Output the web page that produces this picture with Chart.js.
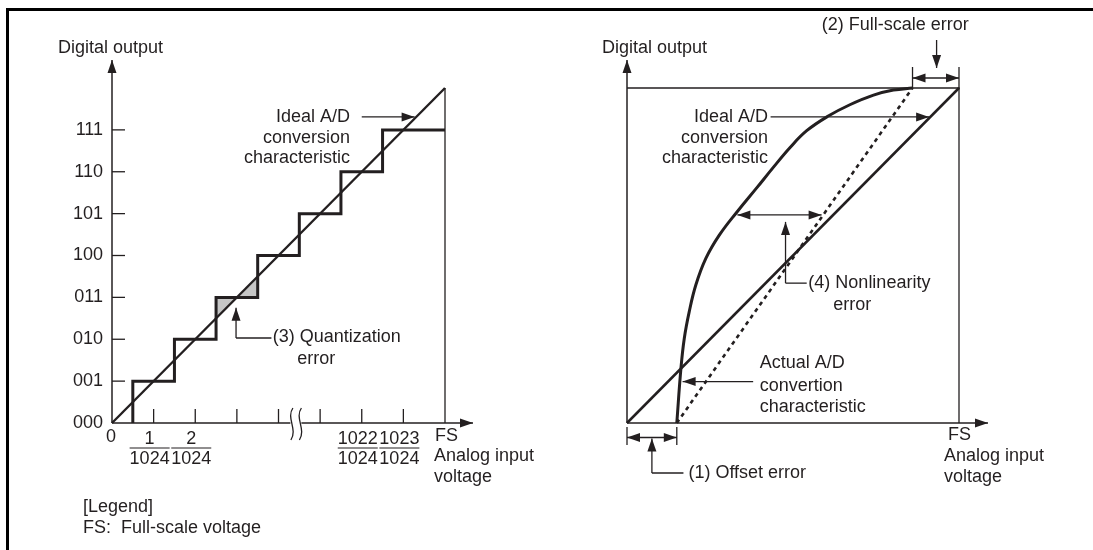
<!DOCTYPE html>
<html>
<head>
<meta charset="utf-8">
<script src="https://cdn.jsdelivr.net/npm/chart.js@4"></script>
<style>
  body { margin: 0; background: #fff; width: 1093px; height: 550px; overflow: hidden; position: relative; }
  #frame { position: absolute; left: 6px; top: 8px; width: 1200px; height: 700px;
           border-top: 3px solid #000; border-left: 3px solid #000; }
  canvas { position: absolute; top: 0; }
  #left { left: 0; }
  #right { left: 546px; }
</style>
</head>
<body>
<div id="frame"></div>
<canvas id="left" width="546" height="550"></canvas>
<canvas id="right" width="547" height="550"></canvas>
<script>
// left: quantization staircase (units: 1 LSB per step, FS = 8)
const codeLabels = ["000", "001", "010", "011", "100", "101", "110", "111"];
const codeLevels = [0, 1, 2, 3, 4, 5, 6, 7];
const stairX = [0.5, 0.5, 1.5, 2.5, 3.5, 4.5, 5.5, 6.5, 8];
const stairY = [0, 1, 2, 3, 4, 5, 6, 7, 7];
const idealX = [0, 8];
const idealY = [0, 8];
const fsLineX = [8, 8];
const fsLineY = [0, 8];
const tickX = [1, 2, 3, 4, 5, 6, 7];
const fracTickX = [1, 2, 6, 7];
const fracNum = ["1", "2", "1022", "1023"];
const fracDen = "1024";
const quantAX = [2.5, 2.5, 3];
const quantAY = [2.5, 3, 3];
const quantBX = [3, 3.5, 3.5];
const quantBY = [3, 3, 3.5];
const breakAt = 4.43;

// right: error types
const offsetEnd = 1.2;
const fullScaleEnd = 6.88;
const actualX = [1.2, 1.3, 1.38, 1.5, 1.66, 1.9, 2.22, 2.65, 3.13, 3.53, 3.93, 4.33, 4.85, 5.37, 5.94, 6.42, 6.88];
const actualY = [0, 1.31, 2.02, 2.66, 3.3, 3.93, 4.48, 5.04, 5.62, 6.11, 6.58, 6.98, 7.33, 7.6, 7.83, 7.95, 8];
const dashX = [1.2, 6.88];
const dashY = [0, 8];
const boxX = [0, 8, 8];
const boxY = [8, 8, 0];

const INK = "#231f20";
const FONT = '18px "Liberation Sans", Arial, sans-serif';

const pts = (xs, ys) => xs.map((x, i) => ({ x: x, y: ys[i] }));

function lineDs(data, width, extra) {
  return Object.assign({
    data: data,
    borderColor: INK,
    borderWidth: width,
    pointRadius: 0,
    fill: false,
    tension: 0,
    clip: false,
  }, extra || {});
}

function seg(ctx, x1, y1, x2, y2, w) {
  ctx.beginPath();
  ctx.lineWidth = w || 1.3;
  ctx.moveTo(x1, y1);
  ctx.lineTo(x2, y2);
  ctx.stroke();
}

function head(ctx, fx, fy, tx, ty, len, half) {
  len = len || 13;
  half = half || 4.5;
  const a = Math.atan2(ty - fy, tx - fx);
  ctx.beginPath();
  ctx.moveTo(tx, ty);
  ctx.lineTo(tx - len * Math.cos(a) + half * Math.sin(a), ty - len * Math.sin(a) - half * Math.cos(a));
  ctx.lineTo(tx - len * Math.cos(a) - half * Math.sin(a), ty - len * Math.sin(a) + half * Math.cos(a));
  ctx.closePath();
  ctx.fill();
}

function arrow(ctx, fx, fy, tx, ty, w) {
  seg(ctx, fx, fy, tx, ty, w);
  head(ctx, fx, fy, tx, ty);
}

function text(ctx, s, x, y, align) {
  ctx.textAlign = align || "left";
  ctx.fillText(s, x, y);
}

function baseOptions(padding) {
  return {
    responsive: false,
    animation: false,
    events: [],
    layout: { padding: padding },
    plugins: { legend: { display: false }, tooltip: { enabled: false } },
    scales: {
      x: { type: "linear", min: 0, max: 8, display: false },
      y: { type: "linear", min: 0, max: 8, display: false },
    },
  };
}

const leftNotes = {
  id: "leftNotes",
  afterDraw(chart) {
    const ctx = chart.ctx;
    const X = (v) => chart.scales.x.getPixelForValue(v);
    const Y = (v) => chart.scales.y.getPixelForValue(v);
    ctx.save();
    ctx.strokeStyle = INK;
    ctx.fillStyle = INK;
    ctx.font = FONT;
    ctx.textBaseline = "middle";

    // axes
    arrow(ctx, X(0), Y(0), X(0), Y(8) - 28, 1.5);
    const bx = X(breakAt);
    seg(ctx, X(0), Y(0), bx - 6, Y(0), 1.5);
    arrow(ctx, bx + 5, Y(0), X(8) + 28, Y(0), 1.5);
    ctx.lineWidth = 1.3;
    [bx - 4.5, bx + 4].forEach((cx) => {
      ctx.beginPath();
      ctx.moveTo(cx + 1, Y(0) - 15);
      ctx.bezierCurveTo(cx - 6, Y(0) - 5, cx + 6, Y(0) + 6, cx - 1, Y(0) + 17);
      ctx.stroke();
    });

    // y ticks and labels
    codeLevels.forEach((lv, i) => {
      if (lv > 0) seg(ctx, X(0), Y(lv), X(0) + 13, Y(lv), 1.3);
      text(ctx, codeLabels[i], X(0) - 9, Y(lv), "right");
    });
    // x ticks
    tickX.forEach((t) => seg(ctx, X(t), Y(0), X(t), Y(0) - 14, 1.3));
    text(ctx, "0", X(0) - 1, Y(0) + 14, "center");
    fracTickX.forEach((t, i) => {
      const cx = X(t) - 4;
      text(ctx, fracNum[i], cx, Y(0) + 16, "center");
      seg(ctx, cx - 20, Y(0) + 25, cx + 20, Y(0) + 25, 1.2);
      text(ctx, fracDen, cx, Y(0) + 36, "center");
    });

    text(ctx, "Digital output", X(0) - 54, Y(8) - 40);
    text(ctx, "FS", X(8) - 10, Y(0) + 13);
    text(ctx, "Analog input", X(8) - 11, Y(0) + 33);
    text(ctx, "voltage", X(8) - 11, Y(0) + 54);

    // ideal characteristic callout
    const iy = Y(7.31);
    arrow(ctx, X(6.0), iy, X(7.27), iy, 1.3);
    text(ctx, "Ideal A/D", X(5.72), iy, "right");
    text(ctx, "conversion", X(5.72), iy + 21, "right");
    text(ctx, "characteristic", X(5.72), iy + 41, "right");

    // quantization error callout
    const qy = Y(2.03);
    seg(ctx, X(3.83), qy, X(2.98), qy, 1.3);
    arrow(ctx, X(2.98), qy, X(2.98), Y(2.75), 1.3);
    text(ctx, "(3) Quantization", X(3.86), qy - 1);
    text(ctx, "error", X(4.45), qy + 21);

    // legend
    text(ctx, "[Legend]", X(0) - 29, Y(0) + 84);
    text(ctx, "FS:  Full-scale voltage", X(0) - 29, Y(0) + 105);
    ctx.restore();
  },
};

const rightNotes = {
  id: "rightNotes",
  afterDraw(chart) {
    const ctx = chart.ctx;
    const X = (v) => chart.scales.x.getPixelForValue(v);
    const Y = (v) => chart.scales.y.getPixelForValue(v);
    ctx.save();
    ctx.strokeStyle = INK;
    ctx.fillStyle = INK;
    ctx.font = FONT;
    ctx.textBaseline = "middle";

    arrow(ctx, X(0), Y(0), X(0), Y(8) - 28, 1.5);
    arrow(ctx, X(0), Y(0), X(8) + 29, Y(0), 1.5);

    text(ctx, "Digital output", X(0) - 25, Y(8) - 40);
    text(ctx, "FS", X(8) - 11, Y(0) + 12);
    text(ctx, "Analog input", X(8) - 15, Y(0) + 33);
    text(ctx, "voltage", X(8) - 15, Y(0) + 54);

    // (2) full-scale error
    text(ctx, "(2) Full-scale error", X(4.69), Y(8) - 63);
    arrow(ctx, X(7.46), Y(8) - 48, X(7.46), Y(8) - 20, 1.3);
    seg(ctx, X(fullScaleEnd), Y(8) - 21, X(fullScaleEnd), Y(8) + 1, 1.3);
    seg(ctx, X(8), Y(8) - 21, X(8), Y(8) + 1, 1.3);
    const fy = Y(8) - 10;
    seg(ctx, X(fullScaleEnd), fy, X(8), fy, 1.3);
    head(ctx, X(8), fy, X(fullScaleEnd), fy);
    head(ctx, X(fullScaleEnd), fy, X(8), fy);

    // ideal characteristic callout
    const iy = Y(7.31);
    arrow(ctx, X(3.46), iy, X(7.28), iy, 1.3);
    text(ctx, "Ideal A/D", X(3.4), iy, "right");
    text(ctx, "conversion", X(3.4), iy + 21, "right");
    text(ctx, "characteristic", X(3.4), iy + 41, "right");

    // (4) nonlinearity error
    const ny = Y(4.97);
    seg(ctx, X(2.66), ny, X(4.69), ny, 1.3);
    head(ctx, X(4.69), ny, X(2.66), ny);
    head(ctx, X(2.66), ny, X(4.69), ny);
    const ly = Y(3.34);
    seg(ctx, X(4.33), ly, X(3.82), ly, 1.3);
    arrow(ctx, X(3.82), ly, X(3.82), ny + 7, 1.3);
    text(ctx, "(4) Nonlinearity", X(4.37), ly);
    text(ctx, "error", X(4.97), ly + 22);

    // actual characteristic callout
    const ay = Y(0.99);
    arrow(ctx, X(3.04), ay, X(1.34), ay, 1.3);
    text(ctx, "Actual A/D", X(3.2), ay - 19);
    text(ctx, "convertion", X(3.2), ay + 4);
    text(ctx, "characteristic", X(3.2), ay + 25);

    // (1) offset error
    seg(ctx, X(0), Y(0) + 4, X(0), Y(0) + 22, 1.3);
    seg(ctx, X(offsetEnd), Y(0) + 4, X(offsetEnd), Y(0) + 22, 1.3);
    const oy = Y(0) + 14.5;
    seg(ctx, X(0), oy, X(offsetEnd), oy, 1.3);
    head(ctx, X(offsetEnd), oy, X(0), oy);
    head(ctx, X(0), oy, X(offsetEnd), oy);
    const oly = Y(0) + 50;
    seg(ctx, X(1.36), oly, X(0.6), oly, 1.3);
    arrow(ctx, X(0.6), oly, X(0.6), oy + 1, 1.3);
    text(ctx, "(1) Offset error", X(1.48), oly);
    ctx.restore();
  },
};

new Chart(document.getElementById("left").getContext("2d"), {
  type: "line",
  data: {
    datasets: [
      lineDs(pts(stairX, stairY), 3, { stepped: "before" }),
      lineDs(pts(idealX, idealY), 2.4),
      lineDs(pts(fsLineX, fsLineY), 1.3),
      lineDs(pts(quantAX, quantAY), 0, { fill: "shape", backgroundColor: "#c6c6c6" }),
      lineDs(pts(quantBX, quantBY), 0, { fill: "shape", backgroundColor: "#c6c6c6" }),
    ],
  },
  options: baseOptions({ left: 112, right: 101, top: 88, bottom: 127 }),
  plugins: [leftNotes],
});

new Chart(document.getElementById("right").getContext("2d"), {
  type: "line",
  data: {
    datasets: [
      lineDs(pts(actualX, actualY), 3, { tension: 0.4 }),
      lineDs(pts(idealX, idealY), 2.5),
      lineDs(pts(dashX, dashY), 2.6, { borderDash: [4, 4] }),
      lineDs(pts(boxX, boxY), 1.3),
    ],
  },
  options: baseOptions({ left: 81, right: 134, top: 88, bottom: 127 }),
  plugins: [rightNotes],
});
</script>
</body>
</html>
